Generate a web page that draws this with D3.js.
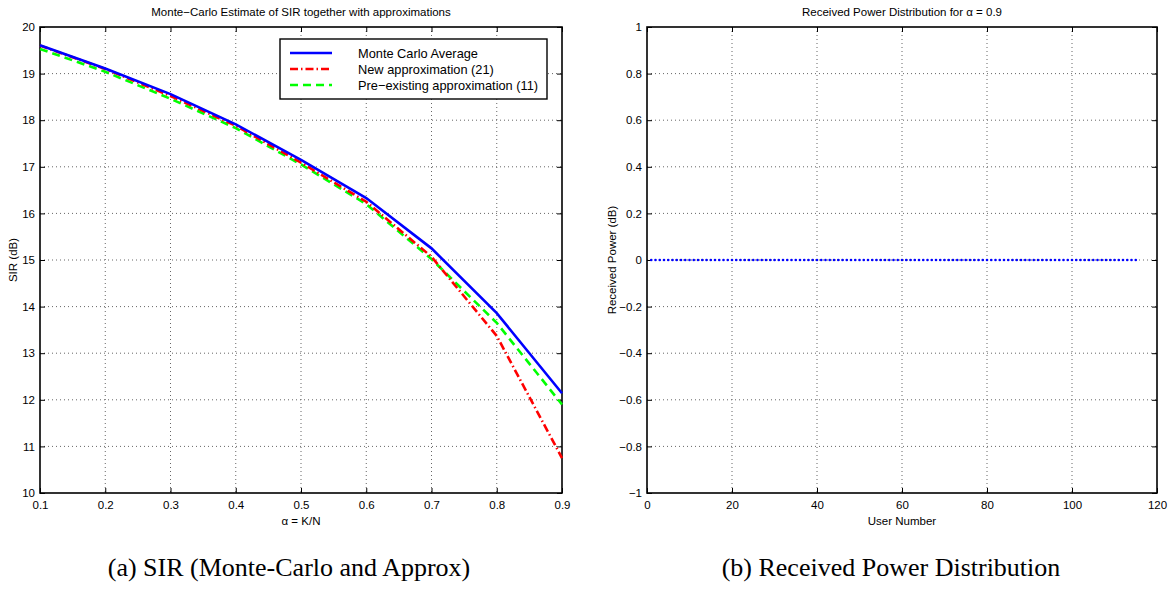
<!DOCTYPE html>
<html><head><meta charset="utf-8">
<script src="https://cdn.jsdelivr.net/npm/d3@7"></script>
<style>
body{margin:0;background:#fff;}
svg{display:block;}
text{font-family:"Liberation Sans",Arial,sans-serif;fill:#000;}
.cap{font-family:"Liberation Serif","Times New Roman",serif;}
</style></head>
<body><svg id="c" width="1172" height="607"></svg>
<script>
// ---- data ----
const alphaValues = [0.1,0.2,0.3,0.4,0.5,0.6,0.7,0.8,0.9];
const monteCarlo  = [19.61,19.11,18.56,17.91,17.15,16.33,15.25,13.86,12.14];
const newApprox   = [19.60,19.10,18.52,17.88,17.09,16.25,15.07,13.37,10.75];
const preApprox   = [19.53,19.04,18.46,17.83,17.05,16.20,15.02,13.65,11.90];
const leftXTicks = [0.1,0.2,0.3,0.4,0.5,0.6,0.7,0.8,0.9];
const leftYTicks = [10,11,12,13,14,15,16,17,18,19,20];
const userNumbers = d3.range(1,116);
const receivedPower = userNumbers.map(()=>0);
const rightXTicks = [0,20,40,60,80,100,120];
const rightYTicks = [-1,-0.8,-0.6,-0.4,-0.2,0,0.2,0.4,0.6,0.8,1];
const legendLabels = ["Monte Carlo Average","New approximation (21)","Pre\u2212existing approximation (11)"];

const svg = d3.select("#c");

function panel(o){
  const g = svg.append("g");
  const x = d3.scaleLinear().domain(o.xd).range([o.x0,o.x1]);
  const y = d3.scaleLinear().domain(o.yd).range([o.y1,o.y0]);
  g.selectAll(".gx").data(o.xt.slice(1,-1)).enter().append("line")
    .attr("x1",d=>x(d)).attr("x2",d=>x(d)).attr("y1",o.y0).attr("y2",o.y1)
    .attr("stroke","#666").attr("stroke-width",1).attr("stroke-dasharray","1,3");
  g.selectAll(".gy").data(o.yt.slice(1,-1)).enter().append("line")
    .attr("y1",d=>y(d)).attr("y2",d=>y(d)).attr("x1",o.x0).attr("x2",o.x1)
    .attr("stroke","#666").attr("stroke-width",1).attr("stroke-dasharray","1,3");
  const ax = g.append("g").attr("transform",`translate(0,${o.y1})`)
    .call(d3.axisBottom(x).tickValues(o.xt).tickSizeInner(-5).tickSizeOuter(0).tickPadding(8).tickFormat(o.xf));
  const ay = g.append("g").attr("transform",`translate(${o.x0},0)`)
    .call(d3.axisLeft(y).tickValues(o.yt).tickSizeInner(-5).tickSizeOuter(0).tickPadding(5).tickFormat(o.yf));
  const axt = g.append("g").attr("transform",`translate(0,${o.y0})`)
    .call(d3.axisTop(x).tickValues(o.xt).tickSizeInner(-5).tickSizeOuter(0).tickFormat(""));
  const ayr = g.append("g").attr("transform",`translate(${o.x1},0)`)
    .call(d3.axisRight(y).tickValues(o.yt).tickSizeInner(-5).tickSizeOuter(0).tickFormat(""));
  [ax,ay,axt,ayr].forEach(a=>{
    a.select(".domain").remove();
    a.selectAll("line").attr("stroke","#000").attr("stroke-width",1);
    a.selectAll("text").attr("font-size",11.5).attr("font-family","Liberation Sans, Arial, sans-serif").attr("fill","#000");
  });
  ax.selectAll("text").attr("dy","0.71em");
  g.append("rect").attr("x",o.x0).attr("y",o.y0).attr("width",o.x1-o.x0).attr("height",o.y1-o.y0)
    .attr("fill","none").attr("stroke","#000").attr("stroke-width",1.6);
  g.append("text").attr("x",(o.x0+o.x1)/2).attr("y",16).attr("text-anchor","middle").attr("font-size",11.5).text(o.title);
  g.append("text").attr("x",(o.x0+o.x1)/2).attr("y",525).attr("text-anchor","middle").attr("font-size",11.5).text(o.xl);
  g.append("text").attr("transform",`translate(${o.ylx},${(o.y0+o.y1)/2}) rotate(-90)`).attr("text-anchor","middle").attr("font-size",11.5).text(o.yl);
  g.append("text").attr("class","cap").attr("x",o.cx).attr("y",576).attr("text-anchor","middle").attr("font-size",26).text(o.cap);
  return {g,x,y};
}

const L = panel({x0:40,x1:562,y0:27,y1:493,xd:[0.1,0.9],yd:[10,20],xt:leftXTicks,yt:leftYTicks,
  xf:d3.format(".1f"),yf:d3.format("d"),title:"Monte\u2212Carlo Estimate of SIR together with approximations",
  xl:"\u03b1 = K/N",yl:"SIR (dB)",ylx:17,cx:289,cap:"(a) SIR (Monte-Carlo and Approx)"});

const line = d3.line().x((d,i)=>L.x(alphaValues[i])).y(d=>L.y(d));
const series = [
  {v:preApprox,c:"#00ff00",dash:"8,5"},
  {v:newApprox,c:"#ff0000",dash:"8,3,1.5,3"},
  {v:monteCarlo,c:"#0000ff",dash:null}
];
series.forEach(s=>{
  L.g.append("path").datum(s.v).attr("d",line).attr("fill","none").attr("stroke",s.c)
    .attr("stroke-width",2.6).attr("stroke-dasharray",s.dash);
});
const lg = L.g.append("g");
lg.append("rect").attr("x",280).attr("y",39).attr("width",267).attr("height",60).attr("fill","#fff").attr("stroke","#000").attr("stroke-width",1.4);
const legStyles=[{c:"#0000ff",dash:null},{c:"#ff0000",dash:"8,3,1.5,3"},{c:"#00ff00",dash:"8,5"}];
legendLabels.forEach((t,i)=>{
  const yy = 53+i*16;
  lg.append("line").attr("x1",290).attr("x2",332).attr("y1",yy).attr("y2",yy)
    .attr("stroke",legStyles[i].c).attr("stroke-width",2.6).attr("stroke-dasharray",legStyles[i].dash);
  lg.append("text").attr("x",358).attr("y",yy+4.5).attr("font-size",12.8).text(t);
});

const R = panel({x0:647,x1:1157,y0:27,y1:493,xd:[0,120],yd:[-1,1],xt:rightXTicks,yt:rightYTicks,
  xf:d3.format("d"),yf:d=>d3.format("")(+d.toFixed(1)),title:"Received Power Distribution for \u03b1 = 0.9",
  xl:"User Number",yl:"Received Power (dB)",ylx:616,cx:891,cap:"(b) Received Power Distribution"});
R.g.append("g").selectAll("circle").data(receivedPower).enter().append("circle")
  .attr("cx",(d,i)=>R.x(userNumbers[i])).attr("cy",d=>R.y(d)).attr("r",1.3).attr("fill","#0000ff");
</script></body></html>
